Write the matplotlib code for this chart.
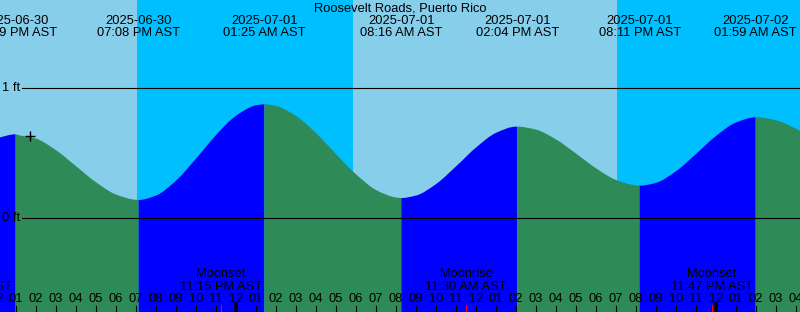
import numpy as np
import matplotlib
matplotlib.use("Agg")
import matplotlib.pyplot as plt
from matplotlib import transforms
from matplotlib.path import Path
from matplotlib.patches import PathPatch
from datetime import datetime, timedelta

# ---------------- data ----------------
title = "Roosevelt Roads, Puerto Rico"
tz_name = "AST"

# tide extremes
event_times = ["2025-06-30 12:59", "2025-06-30 19:08", "2025-07-01 01:25",
               "2025-07-01 08:16", "2025-07-01 14:04", "2025-07-01 20:11",
               "2025-07-02 01:59"]
event_kinds = ["High", "Low", "High", "Low", "High", "Low", "High"]
event_heights = [0.646, 0.141, 0.877, 0.156, 0.705, 0.251, 0.777]

# hourly tide heights (ft) starting 2025-06-30 12:00
hourly_start = "2025-06-30 12:00"
hourly_heights = [0.615, 0.645, 0.613, 0.524, 0.401, 0.277, 0.183, 0.142,
                  0.175, 0.290, 0.459, 0.640, 0.789, 0.869, 0.864, 0.787,
                  0.655, 0.494, 0.339, 0.218, 0.160, 0.175, 0.263, 0.399,
                  0.544, 0.657, 0.705, 0.682, 0.607, 0.498, 0.385, 0.295,
                  0.253, 0.273, 0.362, 0.495, 0.633, 0.737, 0.777, 0.754,
                  0.689, 0.597]

# sun: night intervals (sunset -> sunrise)
sunsets = ["2025-06-30 19:03", "2025-07-01 19:03"]
sunrises = ["2025-07-01 05:50", "2025-07-02 05:50"]

# moon events
moon_times = ["2025-06-30 10:44", "2025-06-30 23:15", "2025-07-01 11:30", "2025-07-01 23:47"]
moon_names = ["Moonrise", "Moonset", "Moonrise", "Moonset"]

# current time mark
now_time = "2025-06-30 13:42"
now_height = 0.631

# view window
view_start = "2025-06-30 12:12"
view_hours = 40

# ---------------- helpers ----------------
origin = datetime(2025, 6, 30)
fmt = "%Y-%m-%d %H:%M"


def to_dt(s):
    return datetime.strptime(s, fmt)


def hrs(s):
    return (to_dt(s) - origin).total_seconds() / 3600.0


def pchip_slopes(x, y):
    # Fritsch-Carlson monotone slopes (smooth drawing through the points)
    h = np.diff(x)
    d = np.diff(y) / h
    m = np.zeros_like(y)
    for i in range(1, len(x) - 1):
        if d[i - 1] * d[i] <= 0:
            m[i] = 0.0
        else:
            w1 = 2 * h[i] + h[i - 1]
            w2 = h[i] + 2 * h[i - 1]
            m[i] = (w1 + w2) / (w1 / d[i - 1] + w2 / d[i])
    m[0] = d[0]
    m[-1] = d[-1]
    return m


W, H = 800, 312
plt.rcParams['font.family'] = ['Liberation Sans', 'DejaVu Sans']
FS = 9.3

fig = plt.figure(figsize=(W / 100, H / 100), dpi=100)
ax = fig.add_axes([0, 0, 1, 1])
ax.set_axis_off()

t0 = hrs(view_start)
t1 = t0 + view_hours
ax.set_xlim(t0, t1)
y_zero_px, px_per_ft = 218.3, 130.0
ax.set_ylim((y_zero_px - H) / px_per_ft, y_zero_px / px_per_ft)
ybot = (y_zero_px - H) / px_per_ft - 0.05


def fy(px):  # pixel row -> axes fraction
    return 1 - px / H


bt = transforms.blended_transform_factory(ax.transData, ax.transAxes)
bl = transforms.blended_transform_factory(ax.transAxes, ax.transData)

DAY = "#87CEEB"
NIGHT = "#00BFFF"
RISE = "#0000FF"
FALL = "#2E8B57"

# background day / night
ax.axvspan(t0 - 5, t1 + 5, color=DAY, zorder=0, lw=0)
for ss, sr in zip(sunsets, sunrises):
    ax.axvspan(hrs(ss), hrs(sr), color=NIGHT, zorder=0.5, lw=0)

# tide curve
hs = hrs(hourly_start)
hour_t = hs + np.arange(len(hourly_heights))
ev_t = np.array([hrs(s) for s in event_times])
t_all = np.concatenate([hour_t, ev_t])
h_all = np.concatenate([np.array(hourly_heights), np.array(event_heights)])
order = np.argsort(t_all)
t_all, h_all = t_all[order], h_all[order]
keep = np.concatenate([[True], np.diff(t_all) > 1e-6])
t_all, h_all = t_all[keep], h_all[keep]
slopes = pchip_slopes(t_all, h_all)

bounds = [t_all.min()] + list(ev_t) + [t_all.max()]
for i, (a, b) in enumerate(zip(bounds[:-1], bounds[1:])):
    if i < len(event_kinds):
        col = RISE if event_kinds[i] == "High" else FALL
    else:
        col = FALL if event_kinds[-1] == "High" else RISE
    idx = np.where((t_all >= a - 1e-9) & (t_all <= b + 1e-9))[0]
    verts = [(t_all[idx[0]], ybot), (t_all[idx[0]], h_all[idx[0]])]
    codes = [Path.MOVETO, Path.LINETO]
    for j0, j1 in zip(idx[:-1], idx[1:]):
        dx = t_all[j1] - t_all[j0]
        verts += [(t_all[j0] + dx / 3, h_all[j0] + slopes[j0] * dx / 3),
                  (t_all[j1] - dx / 3, h_all[j1] - slopes[j1] * dx / 3),
                  (t_all[j1], h_all[j1])]
        codes += [Path.CURVE4] * 3
    verts += [(t_all[idx[-1]], ybot), (t_all[idx[0]], ybot)]
    codes += [Path.LINETO, Path.CLOSEPOLY]
    ax.add_patch(PathPatch(Path(verts, codes), facecolor=col, edgecolor="none",
                           lw=0, zorder=2))

# reference lines
for lvl, lab in [(1, "1 ft"), (0, "0 ft")]:
    ax.axhline(lvl, xmin=22 / W, xmax=1, color="black", lw=0.8, zorder=3)
    ax.text(2.5 / W, lvl, lab, transform=bl, ha="left", va="center",
            fontsize=FS, color="black", zorder=4)

# now mark
ax.plot([hrs(now_time)], [now_height], marker="+", ms=7, mew=1.0,
        color="black", zorder=5)

# title
ax.text(0.5, fy(11.7), title, transform=ax.transAxes, ha="center",
        va="baseline", fontsize=FS, color="black", zorder=6)

# event labels
for s in event_times:
    d = to_dt(s)
    x = hrs(s)
    ax.text(x, fy(24), d.strftime("%Y-%m-%d"), transform=bt, ha="center",
            va="baseline", fontsize=FS, color="black", zorder=6)
    ax.text(x, fy(36), d.strftime("%I:%M %p") + " " + tz_name, transform=bt,
            ha="center", va="baseline", fontsize=FS, color="black", zorder=6)

# moon labels + red ticks
for s, name in zip(moon_times, moon_names):
    d = to_dt(s)
    x = hrs(s)
    ax.text(x, fy(277), name, transform=bt, ha="center", va="baseline",
            fontsize=FS, color="black", zorder=6)
    ax.text(x, fy(290), d.strftime("%I:%M %p") + " " + tz_name, transform=bt,
            ha="center", va="baseline", fontsize=FS, color="black", zorder=6)
    ax.axvline(x, ymin=0, ymax=7 / H, color="red", lw=0.8, zorder=7)

# hour ticks & labels
for hh in range(int(np.floor(t0)), int(np.ceil(t1)) + 1):
    d = origin + timedelta(hours=hh)
    lab = d.strftime("%I")
    ax.text(hh, fy(301.7), lab, transform=bt, ha="center", va="baseline",
            fontsize=FS, color="black", zorder=6)
    if d.hour == 0:
        ax.axvline(hh, ymin=0, ymax=8 / H, color="black", lw=2.6, zorder=7)
    else:
        ax.axvline(hh, ymin=0, ymax=6.5 / H, color="black", lw=0.8, zorder=7)

fig.savefig("out.png", dpi=100)
